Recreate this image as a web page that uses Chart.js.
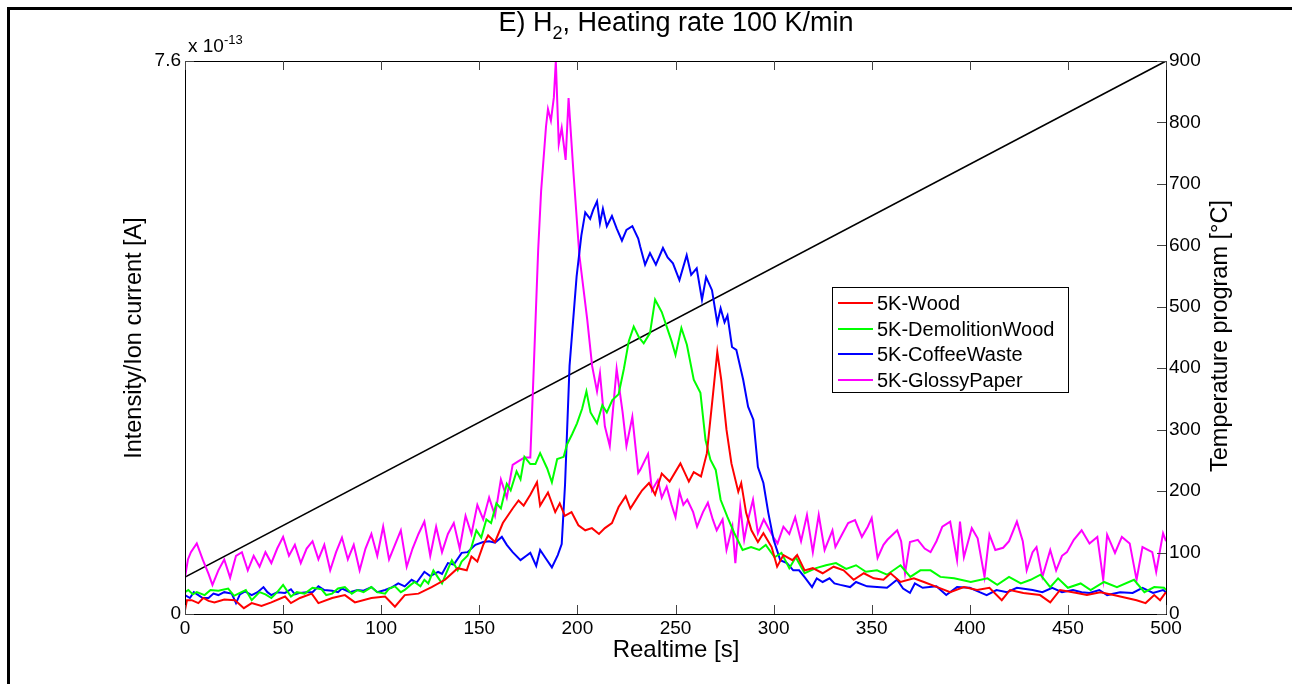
<!DOCTYPE html>
<html>
<head>
<meta charset="utf-8">
<script src="https://cdn.jsdelivr.net/npm/chart.js@4.4.1/dist/chart.umd.min.js"></script>
<style>
  html, body { margin: 0; padding: 0; background: #fff; }
  #wrap { position: relative; width: 1292px; height: 684px; overflow: hidden;
          font-family: "Liberation Sans", Arial, sans-serif; color: #000; }
  #chart { position: absolute; left: 0; top: 0; }
  .frame { position: absolute; left: 7px; top: 7px; width: 1400px; height: 800px;
           border-top: 3px solid #000; border-left: 3px solid #000; }
  .title { position: absolute; left: 676px; top: 7px; transform: translateX(-50%);
           font-size: 27px; white-space: nowrap; }
  .title sub { font-size: 18px; vertical-align: -8px; line-height: 0; }
  .xlab { position: absolute; left: 676px; top: 635px; transform: translateX(-50%);
          font-size: 24px; white-space: nowrap; }
  .ylab { position: absolute; white-space: nowrap; font-size: 23.5px;
          transform: translate(-50%, -50%) rotate(-90deg); }
  .exp { position: absolute; left: 188px; top: 35px; font-size: 19px; white-space: nowrap; }
  .exp sup { font-size: 13px; vertical-align: 8px; line-height: 0; }
  .legend { position: absolute; left: 832px; top: 287px; width: 237px; height: 106px;
            border: 1px solid #000; background: #fff; box-sizing: border-box; }
  .legend .row { position: absolute; left: 0; height: 24px; line-height: 24px; font-size: 20px; white-space: nowrap; }
  .legend .row i { position: absolute; left: 5px; top: 11px; width: 35px; height: 2px; }
  .legend .row span { position: absolute; left: 44px; top: 0; }
</style>
</head>
<body>
<div id="wrap">
  <canvas id="chart" width="1292" height="684"></canvas>
  <div class="frame"></div>
  <div class="title">E) H<sub>2</sub>, Heating rate 100 K/min</div>
  <div class="exp">x 10<sup>-13</sup></div>
  <div class="xlab">Realtime [s]</div>
  <div class="ylab" style="left:133px;top:338px">Intensity/Ion current [A]</div>
  <div class="ylab" style="left:1219px;top:336px">Temperature program [°C]</div>
  <div class="legend" id="legend"></div>
</div>
<script>
  // Series: [time s, ion current in units of 1e-13 A]
  const woodData = [[0,0.05],[1,0.19],[3.4,0.19],[6.8,0.15],[9.3,0.22],[12,0.18],[15,0.16],[20,0.2],[25.5,0.19],[30,0.08],[34,0.15],[39,0.11],[44,0.16],[51,0.24],[54,0.15],[58.6,0.22],[64.6,0.28],[68,0.15],[75,0.22],[81.5,0.26],[86.6,0.16],[95,0.22],[102,0.24],[107,0.1],[112,0.26],[119,0.28],[125.7,0.37],[132.5,0.47],[139,0.63],[143.6,0.6],[146,0.79],[149,0.72],[152,0.95],[154.5,1.08],[158,0.99],[162,1.25],[167,1.45],[170,1.56],[172.6,1.49],[176,1.64],[179.4,1.81],[181,1.49],[185,1.67],[188.7,1.4],[191,1.52],[193.6,1.35],[197,1.4],[200.5,1.22],[204,1.15],[207.4,1.18],[211,1.1],[214,1.18],[217.6,1.25],[221,1.47],[224.6,1.62],[227,1.45],[231,1.62],[233,1.7],[236.5,1.8],[239.6,1.64],[243,1.93],[247,1.82],[252.5,2.07],[256.8,1.82],[259.3,1.95],[263,1.89],[266,2.21],[269,2.99],[271.3,3.6],[273.3,3.22],[276,2.53],[278.5,2.07],[282,1.68],[283.5,1.8],[286,1.39],[288.7,1.15],[292,0.99],[294.8,1.11],[299,0.92],[301.8,0.65],[305,0.81],[309.6,0.74],[312,0.81],[315.8,0.6],[320,0.63],[325,0.56],[330.6,0.65],[335.7,0.6],[340.8,0.47],[346,0.56],[351,0.49],[356,0.47],[359.6,0.56],[364.7,0.44],[371.5,0.49],[376.6,0.44],[383.4,0.37],[390,0.3],[397,0.37],[403.7,0.33],[410,0.36],[416.3,0.19],[420.5,0.33],[427.3,0.29],[435.8,0.26],[441,0.16],[446,0.33],[454.6,0.29],[459.7,0.26],[466.5,0.3],[473.3,0.26],[480,0.22],[485,0.19],[489.6,0.15],[494,0.26],[497,0.19],[500,0.3]];

  const demolitionData = [[0,0.3],[1.7,0.33],[4,0.27],[6,0.3],[10,0.26],[13,0.33],[17,0.32],[22,0.35],[25,0.25],[28,0.29],[31,0.33],[34,0.19],[38,0.3],[41,0.27],[44,0.22],[47,0.3],[50,0.4],[54,0.24],[57,0.3],[61,0.28],[65,0.36],[69.6,0.34],[72,0.26],[75,0.28],[78,0.35],[81.5,0.37],[85,0.28],[88,0.33],[91,0.3],[95,0.37],[98,0.3],[102,0.28],[104,0.35],[107,0.38],[110,0.3],[112,0.33],[115,0.4],[117,0.44],[120,0.38],[122,0.47],[124,0.42],[126.6,0.6],[129,0.5],[131,0.42],[133,0.55],[136,0.74],[139,0.6],[141,0.72],[144,0.8],[146,0.92],[148.5,1.15],[151,1.05],[153.6,1.3],[156,1.25],[158.7,1.52],[161,1.45],[164,1.79],[166,1.7],[169,1.96],[171,1.85],[173,2.16],[176,2.06],[178.6,2.06],[181,2.21],[184.6,2.0],[187,1.81],[189.7,2.13],[193,2.16],[194.7,2.33],[197.3,2.47],[199.8,2.62],[202.4,2.82],[204.6,3.06],[206.7,2.77],[210,2.62],[212.7,2.87],[215,2.77],[217.8,2.94],[221,3.02],[223.7,3.37],[226.2,3.75],[228.7,3.95],[231.4,3.8],[233.8,3.72],[237,3.86],[239.6,4.32],[243,4.15],[245.5,3.95],[248,3.75],[250,3.56],[253,3.93],[255.8,3.7],[259.3,3.22],[262.7,3.04],[265.3,2.39],[267.8,2.12],[270.5,1.98],[273,1.57],[276.5,1.33],[280,1.11],[284.2,0.88],[288.5,0.92],[292.7,0.88],[296,0.95],[300.5,0.78],[304,0.84],[308,0.63],[311.3,0.78],[315.8,0.56],[321.6,0.63],[326.7,0.67],[331.8,0.7],[337,0.62],[342,0.67],[347,0.58],[352.7,0.6],[357.8,0.54],[364.7,0.67],[369.7,0.51],[374.8,0.6],[380,0.6],[385,0.51],[392,0.49],[400.5,0.44],[409,0.49],[414,0.4],[420,0.51],[426,0.42],[431,0.47],[436,0.54],[441,0.37],[445,0.49],[450,0.36],[456.5,0.42],[461.6,0.33],[468.4,0.44],[475,0.37],[483.7,0.47],[489,0.3],[494,0.37],[499,0.36],[500,0.33]];

  const coffeeData = [[0,0.26],[2.5,0.22],[4.5,0.3],[6.8,0.26],[9,0.22],[12,0.22],[14.5,0.28],[17,0.26],[20,0.3],[23.8,0.28],[26,0.15],[28,0.27],[30.6,0.31],[34,0.26],[37,0.3],[40,0.37],[42,0.3],[44,0.26],[47,0.3],[51,0.29],[54,0.34],[56,0.27],[58.6,0.29],[62,0.3],[65,0.3],[68,0.38],[71,0.33],[75,0.32],[78,0.3],[80,0.35],[84,0.3],[88,0.33],[91,0.32],[95,0.37],[98,0.3],[102,0.33],[105,0.36],[108.7,0.42],[112,0.38],[115.5,0.47],[118,0.43],[122,0.58],[125,0.52],[129,0.58],[131,0.55],[134,0.7],[137,0.68],[141,0.84],[144,0.85],[148,0.95],[152,0.99],[155,1.0],[158,0.98],[161.5,1.06],[164,0.95],[167,0.85],[171,0.74],[174,0.8],[176,0.84],[179,0.66],[181,0.88],[184,0.76],[187,0.64],[190,0.81],[192,0.96],[193.7,1.78],[196,3.41],[199.6,4.64],[202,5.2],[204,5.52],[206.5,5.43],[208,5.55],[210,5.67],[211.5,5.37],[213,5.57],[215,5.33],[217.6,5.47],[220,5.3],[222.7,5.13],[225,5.28],[228,5.33],[231,5.16],[232,5.05],[234.5,4.8],[237,4.96],[240,4.8],[243.6,5.03],[246,4.9],[248.7,4.82],[252,4.59],[255.7,4.93],[258,4.66],[260.8,4.75],[263.5,4.32],[265.6,4.63],[268.6,4.45],[271.3,4.0],[273,4.2],[275,4.01],[276.5,4.1],[278.8,3.67],[281,3.63],[284.5,3.22],[287,2.85],[289.7,2.67],[292,2.02],[294.8,1.8],[297.3,1.39],[300,1.02],[303.4,0.74],[306.8,0.7],[310,0.6],[313,0.6],[316,0.5],[319.6,0.37],[322,0.49],[325,0.44],[328.5,0.49],[331,0.42],[334,0.4],[339,0.37],[342,0.44],[347.6,0.38],[352.7,0.37],[357.8,0.36],[362.9,0.47],[366,0.35],[369.5,0.29],[372,0.42],[376,0.36],[383,0.38],[388,0.26],[393.5,0.37],[400,0.36],[405,0.3],[408.6,0.26],[413.6,0.33],[419,0.3],[424,0.36],[432,0.33],[437,0.3],[442,0.36],[447,0.3],[452.6,0.33],[457,0.3],[461,0.29],[466,0.33],[470,0.26],[476.6,0.3],[483,0.29],[488,0.36],[493.4,0.29],[498.5,0.33],[500,0.3]];

  const glossyData = [[0,0.5],[1.5,0.75],[3,0.85],[6,0.97],[9,0.75],[12,0.55],[14,0.4],[17,0.6],[20,0.75],[23,0.5],[26,0.8],[29,0.85],[32,0.6],[35,0.8],[38,0.65],[41,0.85],[44,0.7],[47,0.9],[50,1.06],[53,0.8],[56,0.95],[59,0.7],[62,0.9],[65,1.0],[68,0.75],[71,0.95],[74,0.6],[77,0.85],[80,1.05],[83,0.75],[86,0.95],[89,0.6],[92,0.9],[95,1.1],[98,0.8],[101,1.2],[104,0.75],[107,0.95],[110,1.15],[113,0.65],[116,0.9],[119,1.1],[122,1.27],[125,0.8],[128,1.2],[131,0.85],[134,1.1],[137,1.25],[140,0.9],[143,1.35],[146,1.1],[149,1.5],[152,1.3],[155,1.6],[158,1.35],[161,1.85],[164,1.6],[167,2.05],[170,2.1],[173,2.15],[176,2.15],[177.5,3.2],[180,5.0],[181.5,5.81],[184,6.7],[185,6.94],[186.5,6.78],[188,7.1],[189,7.6],[190.5,6.46],[192,6.68],[194,6.24],[195.5,7.09],[198,6.06],[201,4.93],[205,4.05],[207.5,3.41],[210,3.06],[211.5,3.31],[214,2.58],[216.5,2.31],[220,3.37],[223,2.78],[225,2.31],[228,2.71],[231,1.94],[232,1.98],[236,2.2],[238,1.7],[241,1.84],[243,1.6],[245.5,1.75],[248,1.5],[250,1.33],[252,1.68],[254,1.5],[256,1.57],[259,1.4],[261,1.2],[264,1.4],[266.5,1.53],[269,1.3],[271,1.15],[274,1.3],[276,0.88],[279,1.2],[280.5,0.7],[283,1.47],[285,1.02],[287,1.3],[289.5,1.57],[292,1.11],[295,1.3],[297,1.2],[300,1.05],[302,0.97],[305,1.2],[308,1.1],[311,1.33],[314,1.0],[317,1.36],[320,0.85],[323,1.36],[326,0.88],[330,1.15],[331.5,0.92],[335,1.1],[338,1.25],[341.5,1.29],[345,1.06],[348,1.2],[350,1.32],[353,0.77],[356,0.95],[358,1.02],[363,1.15],[365,1.0],[367,0.56],[369.5,0.99],[373.5,1.02],[377,0.9],[380,0.85],[383,1.0],[386,1.2],[390,1.27],[393.5,0.74],[395,1.27],[397,0.78],[401,1.18],[404,1.04],[407.5,0.51],[410,1.09],[413,0.88],[417,0.91],[420,1.0],[424,1.27],[427,1.0],[429,0.6],[432,0.85],[434,0.92],[437,0.51],[441,0.88],[444,0.6],[447,0.8],[449.5,0.85],[453,1.02],[457,1.15],[461,0.97],[465,1.06],[468,0.47],[470,1.09],[474,0.84],[477.5,1.06],[481.5,0.97],[485,0.47],[488,0.92],[493,0.85],[495,0.58],[498.5,1.11],[500,1.0]];

  // Temperature program [°C] vs time
  const tempData = [[0,60],[500,900]];

  const seriesNames = ['5K-Wood', '5K-DemolitionWood', '5K-CoffeeWaste', '5K-GlossyPaper'];
  const seriesColors = ['#ff0000', '#00ff00', '#0000ff', '#ff00ff'];
  const leftTicks = [0, 7.6];

  const FONT = '"Liberation Sans", Arial, sans-serif';
  const toXY = arr => arr.map(p => ({ x: p[0], y: p[1] }));

  // legend box (HTML)
  const legend = document.getElementById('legend');
  seriesNames.forEach((name, i) => {
    const row = document.createElement('div');
    row.className = 'row';
    row.style.top = (3 + i * 25.5) + 'px';
    row.innerHTML = `<i style="background:${seriesColors[i]}"></i><span>${name}</span>`;
    legend.appendChild(row);
  });

  // axes box + inward tick marks, MATLAB style
  const boxTicks = {
    id: 'boxTicks',
    afterDraw(chart) {
      const { ctx, chartArea: a, scales } = chart;
      ctx.save();
      ctx.strokeStyle = '#000';
      ctx.lineWidth = 1;
      ctx.strokeRect(Math.round(a.left) + 0.5, Math.round(a.top) + 0.5,
                     Math.round(a.right - a.left), Math.round(a.bottom - a.top));
      ctx.strokeStyle = '#444';
      ctx.beginPath();
      scales.x.ticks.forEach(t => {
        const px = Math.round(scales.x.getPixelForValue(t.value)) + 0.5;
        ctx.moveTo(px, a.bottom); ctx.lineTo(px, a.bottom - 9);
        ctx.moveTo(px, a.top); ctx.lineTo(px, a.top + 9);
      });
      scales.y.ticks.forEach(t => {
        const py = Math.round(scales.y.getPixelForValue(t.value)) + 0.5;
        ctx.moveTo(a.left, py); ctx.lineTo(a.left + 9, py);
      });
      scales.y2.ticks.forEach(t => {
        const py = Math.round(scales.y2.getPixelForValue(t.value)) + 0.5;
        ctx.moveTo(a.right, py); ctx.lineTo(a.right - 9, py);
      });
      ctx.stroke();
      ctx.restore();
    }
  };

  const datasets = [woodData, demolitionData, coffeeData, glossyData].map((d, i) => ({
    label: seriesNames[i],
    data: toXY(d),
    borderColor: seriesColors[i],
    borderWidth: 2,
    pointRadius: 0,
    tension: 0,
    yAxisID: 'y'
  }));
  datasets.push({
    label: 'Temperature',
    data: toXY(tempData),
    borderColor: '#000',
    borderWidth: 1.6,
    pointRadius: 0,
    tension: 0,
    yAxisID: 'y2'
  });

  const tickFont = { family: FONT, size: 19 };

  new Chart(document.getElementById('chart'), {
    type: 'line',
    data: { datasets },
    options: {
      responsive: false,
      animation: false,
      layout: { padding: { top: 61, left: 0, right: 0, bottom: 0 } },
      plugins: { legend: { display: false }, tooltip: { enabled: false } },
      scales: {
        x: {
          type: 'linear', min: 0, max: 500,
          ticks: { stepSize: 50, color: '#000', font: tickFont, padding: 3, maxRotation: 0, autoSkip: false },
          grid: { display: false, drawTicks: false },
          border: { display: false },
          afterFit(s) { s.height = 70; }
        },
        y: {
          position: 'left', min: 0, max: 7.6,
          afterBuildTicks(s) { s.ticks = leftTicks.map(v => ({ value: v })); },
          ticks: { color: '#000', font: tickFont, padding: 4, callback: v => String(v) },
          grid: { display: false, drawTicks: false },
          border: { display: false },
          afterFit(s) { s.width = 185; }
        },
        y2: {
          position: 'right', min: 0, max: 900,
          ticks: { stepSize: 100, color: '#000', font: tickFont, padding: 3 },
          grid: { display: false, drawTicks: false },
          border: { display: false },
          afterFit(s) { s.width = 126; }
        }
      }
    },
    plugins: [boxTicks]
  });
</script>
</body>
</html>
